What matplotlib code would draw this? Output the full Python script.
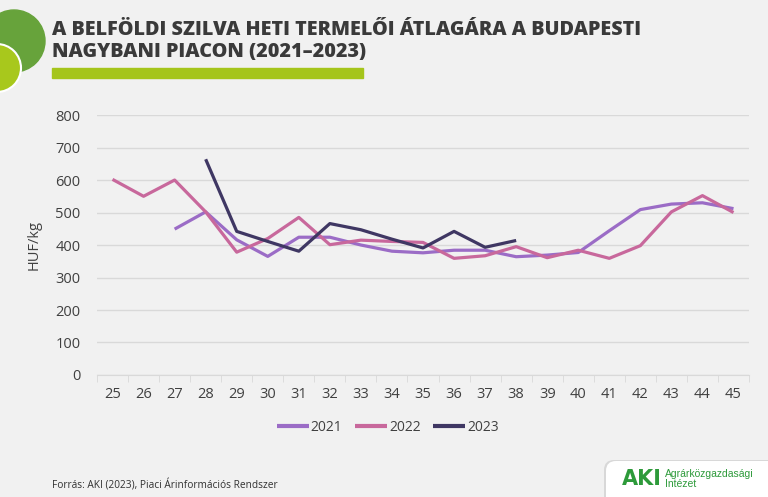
import matplotlib.pyplot as plt
import numpy as np
from matplotlib.patches import Circle, FancyBboxPatch, Rectangle

weeks = list(range(25, 46))
nan = np.nan
y2021 = [nan, nan, 449, 502, 416, 365, 424, 424, 400, 381, 376, 384, 384, 364, 369, 377, 444, 509, 526, 530, 512]
y2022 = [602, 550, 600, 502, 378, 420, 485, 401, 415, 411, 408, 359, 367, 395, 361, 384, 359, 398, 502, 552, 500]
y2023 = [nan, nan, nan, 664, 442, 411, 381, 466, 447, 418, 391, 442, 393, 414, nan, nan, nan, nan, nan, nan, nan]

series = [('2021', y2021, '#9b6cc6'), ('2022', y2022, '#c8689c'), ('2023', y2023, '#3f3763')]

bg = '#f1f1f1'
fig = plt.figure(figsize=(7.68, 4.97), dpi=100, facecolor=bg)
plt.rcParams['font.family'] = ['Open Sans', 'DejaVu Sans']

ax = fig.add_axes([0.1263, 0.2455, 0.849, 0.523], facecolor=bg)
for name, vals, col in series:
    ax.plot(weeks, vals, color=col, lw=2.3, label=name, solid_capstyle='butt')

ax.set_xlim(24.5, 45.5)
ax.set_ylim(0, 800)
ax.set_yticks(range(0, 801, 100))
ax.set_xticks(weeks)
ax.set_xticks(np.arange(24.5, 45.6, 1), minor=True)
ax.tick_params(axis='x', which='major', length=0, pad=9, labelsize=10.5, labelcolor='#404040')
ax.tick_params(axis='x', which='minor', length=5, color='#d9d9d9')
ax.tick_params(axis='y', length=0, pad=12, labelsize=10.5, labelcolor='#404040')
ax.grid(axis='y', color='#d9d9d9', lw=1)
ax.set_axisbelow(True)
for s in ['top', 'right', 'left']:
    ax.spines[s].set_visible(False)
ax.spines['bottom'].set_color('#d9d9d9')
ax.set_ylabel('HUF/kg', fontsize=10.5, color='#404040', labelpad=10)

leg = ax.legend(loc='upper center', bbox_to_anchor=(0.446, -0.125), ncol=3, frameon=False,
                fontsize=10, handlelength=2.3, handletextpad=0.15, columnspacing=0.9,
                labelcolor='#404040')
for line in leg.get_lines():
    line.set_linewidth(3)

# title and decoration
fig.text(52 / 768, 1 - 41 / 497, 'A BELFÖLDI SZILVA HETI TERMELŐI ÁTLAGÁRA A BUDAPESTI\nNAGYBANI PIACON (2021–2023)',
         fontsize=14.2, fontweight='heavy', color='#3a3a3a', va='center', ha='left', linespacing=1.1)
fig.patches.append(Rectangle((52 / 768, 1 - 78 / 497), (363 - 52) / 768, 10 / 497,
                             transform=fig.transFigure, color='#a5c51b'))
deco = fig.add_axes([0, 0, 1, 1], facecolor='none')
deco.set_xlim(0, 768)
deco.set_ylim(497, 0)
deco.axis('off')
deco.add_patch(Circle((14, 41), 31, color='#67a33b'))
deco.add_patch(Circle((-3, 68), 24, facecolor='#a8c81c', edgecolor='white', lw=1.5))

fig.text(52 / 768, 1 - 485 / 497, 'Forrás: AKI (2023), Piaci Árinformációs Rendszer',
         fontsize=7.3, color='#303030', va='center', ha='left')

# logo box
deco.add_patch(FancyBboxPatch((604, 460), 180, 50, boxstyle='round,pad=0,rounding_size=10',
                              facecolor='#d8d8d8', edgecolor='none'))
deco.add_patch(FancyBboxPatch((606, 461), 180, 50, boxstyle='round,pad=0,rounding_size=10',
                              facecolor='white', edgecolor='none'))
deco.text(622, 479, 'AKI', fontsize=15, fontweight='heavy', color='#2d9a3a', va='center', ha='left',
          family='DejaVu Sans')
deco.text(665, 479, 'Agrárközgazdasági\nIntézet', fontsize=7.5, color='#2d9a3a', va='center', ha='left',
          family='Liberation Sans', linespacing=1.1)

fig.savefig('out.png', dpi=100, facecolor=bg)
